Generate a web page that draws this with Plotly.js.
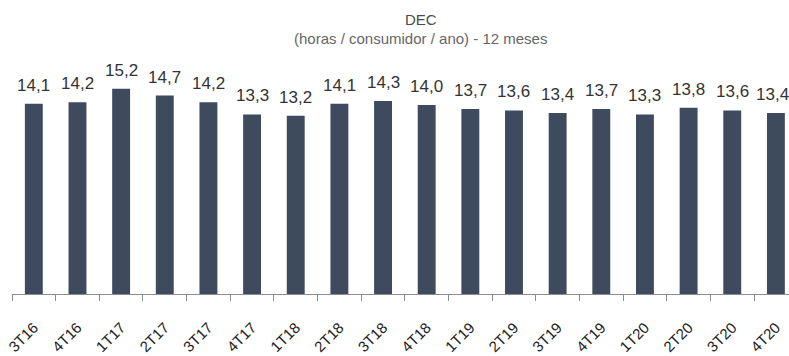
<!DOCTYPE html>
<html>
<head>
<meta charset="utf-8">
<script src="https://cdn.plot.ly/plotly-3.0.1.min.js"></script>
<style>
html,body{margin:0;padding:0;background:#fff;overflow:hidden;}
#chart{width:789px;height:356px;}
</style>
</head>
<body>
<div id="chart"></div>
<script>
var categories = ["3T16","4T16","1T17","2T17","3T17","4T17","1T18","2T18","3T18","4T18","1T19","2T19","3T19","4T19","1T20","2T20","3T20","4T20"];
var decValues = [14.1,14.2,15.2,14.7,14.2,13.3,13.2,14.1,14.3,14.0,13.7,13.6,13.4,13.7,13.3,13.8,13.6,13.4];
var titleMain = "DEC";
var titleSub = "(horas / consumidor / ano) - 12 meses";

var labelFont = {family: "'Liberation Sans', Arial, sans-serif", size: 17, color: "#333333"};

var annotations = categories.map(function(c, i){
  return {
    x: c, y: decValues[i], xref: 'x', yref: 'y',
    text: decValues[i].toFixed(1).replace('.', ','),
    showarrow: false, yanchor: 'bottom', xanchor: 'center', yshift: 7,
    xshift: (i === categories.length - 1) ? -3 : 0,
    font: labelFont
  };
});
annotations.push({
  xref: 'paper', yref: 'paper', x: 0.526, y: (294 - 20) / 216, xanchor: 'center', yanchor: 'middle',
  text: titleMain, showarrow: false, borderpad: 0,
  font: {family: "'Liberation Sans', Arial, sans-serif", size: 15, color: "#4a4a4a"}
});
annotations.push({
  xref: 'paper', yref: 'paper', x: 0.526, y: (294 - 39) / 216, xanchor: 'center', yanchor: 'middle',
  text: titleSub, showarrow: false, borderpad: 0,
  font: {family: "'Liberation Sans', Arial, sans-serif", size: 15, color: "#666666"}
});

var trace = {
  type: 'bar',
  x: categories,
  y: decValues,
  marker: {color: '#3e4a5d'},
  hoverinfo: 'none'
};

var layout = {
  width: 789, height: 356,
  margin: {l: 12, r: 0, t: 78, b: 62, pad: 0},
  paper_bgcolor: '#ffffff', plot_bgcolor: '#ffffff',
  showlegend: false,
  bargap: 0.59,
  xaxis: {
    type: 'category',
    range: [-0.5, 17.3],
    showline: true, linecolor: '#8c8c8c', linewidth: 1,
    ticks: 'outside', tickson: 'boundaries', ticklen: 6, tickcolor: '#8c8c8c',
    tickangle: -45,
    ticklabelstandoff: 18,
    tickfont: {family: "'Liberation Sans', Arial, sans-serif", size: 15, color: '#222222'},
    showgrid: false, zeroline: false, fixedrange: true
  },
  yaxis: {
    range: [0, 16],
    visible: false, showgrid: false, zeroline: false, fixedrange: true
  },
  annotations: annotations
};

Plotly.newPlot('chart', [trace], layout, {displayModeBar: false, staticPlot: true});
</script>
</body>
</html>
